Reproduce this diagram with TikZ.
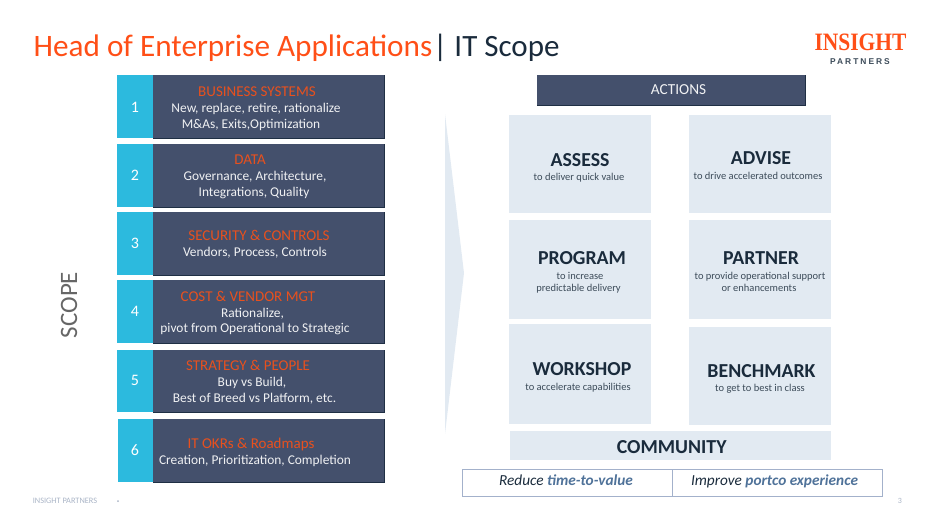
\documentclass[tikz,border=0pt]{standalone}
\usepackage{fontspec}
\setmainfont{Carlito}
\newfontfamily\logoserif{Liberation Serif}
\newfontfamily\logosans[LetterSpace=24]{Liberation Sans}
\definecolor{slatebox}{HTML}{44506C}
\definecolor{slateedge}{HTML}{1F2F44}
\definecolor{cyanbox}{HTML}{2CBADE}
\definecolor{orangetitle}{HTML}{FF4F17}
\definecolor{orangehead}{HTML}{E8501E}
\definecolor{pale}{HTML}{E2EAF2}
\definecolor{inkdark}{HTML}{1A2B3C}
\definecolor{framec}{HTML}{A3B1CB}
\definecolor{accentblue}{HTML}{4F7299}
\definecolor{footc}{HTML}{A9B4C6}
\tikzset{
  x=1pt,y=-1pt,
  txt/.style={inner sep=0pt,anchor=mid,yshift=-2pt,font=\fontsize{13.4}{13.4}\selectfont,text=white!92!slatebox},
  head/.style={txt,yshift=-.8pt,font=\fontsize{15}{15}\selectfont,text=orangehead},
  num/.style={txt,yshift=-.8pt,font=\fontsize{16}{16}\selectfont,text=white},
  cardhead/.style={txt,yshift=-1.7pt,font=\fontsize{19.8}{19.8}\selectfont\bfseries,text=inkdark},
  cardsub/.style={txt,yshift=.7pt,font=\fontsize{10.5}{10.5}\selectfont,text=inkdark!85!white},
  slate/.style={fill=slatebox},
  slateline/.style={draw=slateedge,line width=.7pt},
  cyanb/.style={fill=cyanbox},
  card/.style={fill=pale},
  goal/.style={txt,font=\fontsize{15.3}{15.3}\selectfont\itshape,text=inkdark},
}
\newcommand{\rowbox}[5]{%
  \path[slate] (153,#2) rectangle (384.8,#3);
  \path[slateline] (153,#3) -- (384.8,#3) -- (384.8,#2);
  \path[cyanb] (#1,#2) rectangle (153,#3);
  \node[num] (n#4) at (135,#5) {#4};
}
\begin{document}
\begin{tikzpicture}
\useasboundingbox (0,0) rectangle (936,528);
% title
\node[inner sep=0pt,anchor=base west,font=\fontsize{31.2}{31}\selectfont,text=orangetitle] (title) at (33.5,56) {Head of Enterprise Applications};
\node[inner sep=0pt,anchor=base west,font=\fontsize{31}{31}\selectfont,text=inkdark] (scope) at (433,56) {| IT Scope};
% logo
\node[inner sep=0pt,anchor=center,xscale=.86,font=\logoserif\bfseries\fontsize{25}{25}\selectfont,text=orangetitle] (logoa) at (860.5,42) {INSIGHT};
\node[inner sep=0pt,anchor=center,font=\logosans\bfseries\fontsize{8.4}{9}\selectfont,text=inkdark!85!white] (logob) at (860,61.5) {PARTNERS};
% left rows
\rowbox{117}{75}{138}{1}{107}
\rowbox{117}{144}{207}{2}{175}
\rowbox{117}{212}{275}{3}{243}
\rowbox{117}{280}{343}{4}{311}
\rowbox{117}{350}{412}{5}{380}
\rowbox{118}{419}{482}{6}{450}
\node[head] (h1) at (257,91) {BUSINESS SYSTEMS};
\node[txt] (t1a) at (256,108) {New, replace, retire, rationalize};
\node[txt] (t1b) at (251,124) {M\&As, Exits,Optimization};
\node[head] (h2) at (250,159) {DATA};
\node[txt] (t2a) at (255,176) {Governance, Architecture,};
\node[txt] (t2b) at (254,192) {Integrations, Quality};
\node[head] (h3) at (259,235) {SECURITY \& CONTROLS};
\node[txt] (t3a) at (255,252) {Vendors, Process, Controls};
\node[head] (h4) at (248,296) {COST \& VENDOR MGT};
\node[txt] (t4a) at (252.5,313) {Rationalize,};
\node[txt] (t4b) at (255,328) {pivot from Operational to Strategic};
\node[head] (h5) at (248,365) {STRATEGY \& PEOPLE};
\node[txt] (t5a) at (252,382) {Buy vs Build,};
\node[txt] (t5b) at (254.5,398) {Best of Breed vs Platform, etc.};
\node[head] (h6) at (251,443) {IT OKRs \& Roadmaps};
\node[txt] (t6a) at (255,460) {Creation, Prioritization, Completion};
% scope label
\node[inner sep=0pt,anchor=center,rotate=90,font=\fontsize{25}{25}\selectfont,text=black!60] (scopelabel) at (69,305) {SCOPE};
% big arrow
\fill[pale] (445,114) -- (464,273) -- (445,434) -- cycle;
% actions
\path[slate] (537,75) rectangle (805,105);
\path[slateline] (537,105) -- (805,105) -- (805,75);
\node[txt,font=\fontsize{15.3}{15.3}\selectfont] (actions) at (678.5,90.5) {ACTIONS};
% cards
\path[card] (509,115) rectangle (651,213);
\path[card] (689,115) rectangle (831,213);
\path[card] (509,220) rectangle (651,319);
\path[card] (689,220) rectangle (831,319);
\path[card] (509,324) rectangle (651,424);
\path[card] (689,327) rectangle (831,425);
\path[card] (510,431) rectangle (831,460);
\node[cardhead] (c1) at (580,160) {ASSESS};
\node[cardsub] (c1s) at (579,177) {to deliver quick value};
\node[cardhead] (c2) at (761,158) {ADVISE};
\node[cardsub] (c2s) at (758,176) {to drive accelerated outcomes};
\node[cardhead] (c3) at (582,258) {PROGRAM};
\node[cardsub] (c3s) at (580,276) {to increase};
\node[cardsub] (c3t) at (578.5,288) {predictable delivery};
\node[cardhead] (c4) at (761,258) {PARTNER};
\node[cardsub] (c4s) at (760,276) {to provide operational support};
\node[cardsub] (c4t) at (759,288) {or enhancements};
\node[cardhead] (c5) at (582,369) {WORKSHOP};
\node[cardsub] (c5s) at (578,387) {to accelerate capabilities};
\node[cardhead] (c6) at (761.5,371) {BENCHMARK};
\node[cardsub] (c6s) at (760,388) {to get to best in class};
\node[cardhead] (c7) at (671.7,447) {COMMUNITY};
% goals
\draw[framec,line width=1pt] (462.5,469) rectangle (882,496);
\draw[framec,line width=.8pt] (672.5,469) -- (672.5,496);
\node[goal] (g1) at (566,481) {Reduce \textcolor{accentblue}{\bfseries time-to-value}};
\node[goal] (g2) at (774.5,481) {Improve \textcolor{accentblue}{\bfseries portco experience}};
% footer
\node[inner sep=0pt,anchor=center,font=\fontsize{8.3}{9}\selectfont,text=footc] (f1) at (65,501) {INSIGHT PARTNERS};
\fill[footc] (118,501) circle (1pt);
\node[inner sep=0pt,anchor=center,font=\fontsize{8}{9}\selectfont,text=footc] (f2) at (900,501) {3};
\end{tikzpicture}
\end{document}
